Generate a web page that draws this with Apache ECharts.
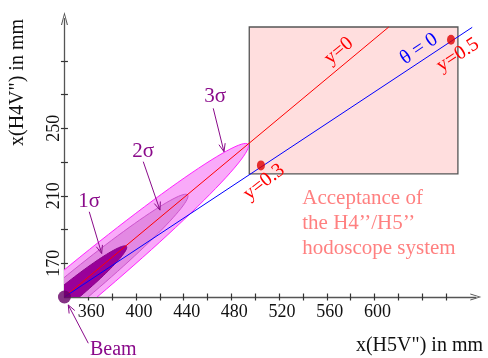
<!DOCTYPE html>
<html><head><meta charset="utf-8">
<script src="https://cdn.jsdelivr.net/npm/echarts@6/dist/echarts.min.js"></script>
<style>html,body{margin:0;padding:0;background:#fff}#c{width:488px;height:358px}</style>
</head><body><div id="c"></div>
<script>
// ---- data ----
const xMin = 340, xMax = 685;
const yMin = 150, yMax = 315;
const xTickValues = [360,380,400,420,440,460,480,500,520,540,560,580,600,620,640,660];
const xLabelValues = [360,400,440,480,520,560,600];
const yTickValues = [170,190,210,230,250,270,290];
const yLabelValues = [170,210,250];

const beam = [340, 150];
// sigma ellipses: far tip of each ellipse (data units) and minor/major ratio
const ellipseNames = ['3σ','2σ','1σ'];
const ellipseTipX = [494, 443.3, 392];
const ellipseTipY = [240.5, 210.5, 180];
const ellipseRatio = [0.088, 0.095, 0.12];

// acceptance rectangle
const accX = [495, 670];
const accY = [223, 310];

// lines
const lineY0 = [[340,150],[612,310]];
const lineTheta0 = [[340,150],[682,309.8]];
// marked points on theta=0 line
const markPoints = [[504.8,228],[664.2,302.4]];

// rotated line labels
const lineLabelText = ['y=0','θ = 0','y=0.5','y=0.3'];
const lineLabelX = [570.2, 637.3, 670, 507.4];
const lineLabelY = [295.8, 297, 293.4, 218.1];
const lineLabelAngle = [40, 34, 33, 38];

// annotation labels with arrows
const annoText = ['3σ','2σ','1σ','Beam'];
const annoX = [466.3, 406.1, 360.8, 381];
const annoY = [268.7, 236.1, 206.5, 118.6];
const arrowFromX = [464.8, 406.1, 360.8, 360];
const arrowFromY = [261.8, 230.2, 200.5, 122.6];
const arrowToX = [473.8, 420.1, 371.2, 343.2];
const arrowToY = [236.1, 201.5, 175.8, 145.3];

const accText = ['Acceptance of','the H4\u2019\u2019/H5\u2019\u2019','hodoscope system'];

// ---- styles ----
const FONT = 'Liberation Serif, Times New Roman, serif';
const ellipseFill = ['#f9aaf9','#e389e3','#990099'];
const ellipseStroke = ['#ff22ff','#cc55cc','#880088'];
const lineLabelColor = ['#ff0000','#0000ff','#ff0000','#ff0000'];
const PURPLE = '#8a0a8a';

const chart = echarts.init(document.getElementById('c'), null, {renderer:'canvas'});

const gridLeft = 64.45, gridBottom = 61;
const kx = 1.1923, ky = 1.6875;
const gridW = (xMax - xMin) * kx, gridH = (yMax - yMin) * ky;

const arrowPathUp = 'path://M0,11 L3.5,0 L7,11 L5.9,11 L3.5,2.6 L1.1,11 Z';

const option = {
  animation: false,
  backgroundColor: '#fff',
  grid: {left: gridLeft, bottom: gridBottom, width: gridW, height: gridH, containLabel: false, outerBoundsMode: 'none'},
  xAxis: [{
    type: 'value', min: xMin, max: xMax, interval: 20, position: 'bottom',
    axisLine: {show: true, onZero: false, lineStyle: {color: '#555', width: 1.3}, symbol: ['none', arrowPathUp], symbolSize: [7, 11]},
    axisTick: {show: true, inside: false, length: 3.5, customValues: xTickValues, lineStyle: {color: '#333', width: 1.2}},
    axisLabel: {show: true, customValues: xLabelValues, margin: 6, fontFamily: FONT, fontSize: 18, color: '#111', padding: [0,0,0,6]},
    splitLine: {show: false}
  },{
    type: 'value', min: xMin, max: xMax, interval: 20, position: 'bottom',
    axisLine: {show: false, onZero: false},
    axisTick: {show: true, inside: true, length: 3.5, customValues: xTickValues, lineStyle: {color: '#333', width: 1.2}},
    axisLabel: {show: false}, splitLine: {show: false}
  }],
  yAxis: [{
    type: 'value', min: yMin, max: yMax, interval: 20, position: 'left',
    axisLine: {show: true, onZero: false, lineStyle: {color: '#555', width: 1.3}, symbol: ['none', 'path://M0,13 L3.5,0 L7,13 L5.9,13 L3.5,3 L1.1,13 Z'], symbolSize: [7, 13]},
    axisTick: {show: true, inside: false, length: 3.5, customValues: yTickValues, lineStyle: {color: '#333', width: 1.2}},
    axisLabel: {show: true, customValues: yLabelValues, rotate: 90, margin: 1, fontFamily: FONT, fontSize: 18, color: '#111'},
    splitLine: {show: false}
  },{
    type: 'value', min: yMin, max: yMax, interval: 20, position: 'left',
    axisLine: {show: false, onZero: false},
    axisTick: {show: true, inside: true, length: 3.5, customValues: yTickValues, lineStyle: {color: '#333', width: 1.2}},
    axisLabel: {show: false}, splitLine: {show: false}
  }],
  graphic: [
    {type: 'text', right: 5, top: 336, style: {text: 'x(H5V") in mm', font: '20px ' + FONT, fill: '#111'}},
    {type: 'text', x: 18, y: 82.5, rotation: Math.PI/2, style: {text: 'x(H4V") in mm', font: '20px ' + FONT, fill: '#111', align: 'center', verticalAlign: 'middle'}}
  ],
  series: [
    {
      type: 'custom', z: 1, clip: false,
      data: [[accX[0], accY[0], accX[1], accY[1]]],
      renderItem: function(params, api){
        const p0 = api.coord([api.value(0), api.value(1)]);
        const p1 = api.coord([api.value(2), api.value(3)]);
        return {type: 'rect', shape: {x: p0[0], y: p1[1], width: p1[0]-p0[0], height: p0[1]-p1[1]},
          style: {fill: '#ffdede', stroke: '#555', lineWidth: 1.3}};
      }
    },
    {
      type: 'custom', z: 3, clip: false,
      data: [[accX[0], accY[0], 0]],
      renderItem: function(params, api){
        const p = api.coord([api.value(0), api.value(1)]);
        const kids = accText.map(function(t, i){
          return {type: 'text', x: p[0] + 53, y: p[1] + 25 + i*24.8,
            style: {text: t, font: '21px ' + FONT, fill: '#ff8080', align: 'left', verticalAlign: 'middle'}};
        });
        return {type: 'group', children: kids};
      }
    },
    {
      type: 'custom', z: 2, clip: true,
      data: ellipseNames.map(function(n, i){ return [ellipseTipX[i], ellipseTipY[i], ellipseRatio[i], i]; }),
      renderItem: function(params, api){
        const c = api.coord(beam);
        const t = api.coord([api.value(0), api.value(1)]);
        const ratio = api.value(2), idx = api.value(3);
        const mx = t[0]-c[0], my = t[1]-c[1];
        const a = Math.hypot(mx, my);
        const nx = -my/a, ny = mx/a, b = ratio*a;
        const pts = [];
        for (let k = 0; k < 120; k++) {
          const th = 2*Math.PI*k/120;
          pts.push([c[0] + Math.cos(th)*mx + Math.sin(th)*b*nx, c[1] + Math.cos(th)*my + Math.sin(th)*b*ny]);
        }
        return {type: 'polygon', shape: {points: pts}, style: {fill: ellipseFill[idx], stroke: ellipseStroke[idx], lineWidth: 1}};
      }
    },
    {type: 'line', z: 4, data: lineY0, symbol: 'none', clip: false, lineStyle: {color: '#ff0000', width: 1}},
    {type: 'line', z: 4, data: lineTheta0, symbol: 'none', clip: false, lineStyle: {color: '#0000ff', width: 1}},
    {type: 'scatter', z: 5, data: markPoints, symbol: 'circle', symbolSize: [8, 10], clip: false, itemStyle: {color: '#e00000'}},
    {type: 'scatter', z: 6, data: [beam], symbol: 'circle', symbolSize: 13, clip: false, itemStyle: {color: '#660066'}},
    {
      type: 'custom', z: 7, clip: false,
      data: lineLabelText.map(function(t, i){ return [lineLabelX[i], lineLabelY[i], i]; }),
      renderItem: function(params, api){
        const p = api.coord([api.value(0), api.value(1)]);
        const i = api.value(2);
        return {type: 'text', x: p[0], y: p[1], rotation: lineLabelAngle[i]*Math.PI/180,
          style: {text: lineLabelText[i], font: '20px ' + FONT, fill: lineLabelColor[i], align: 'center', verticalAlign: 'middle'}};
      }
    },
    {
      type: 'custom', z: 7, clip: false,
      data: annoText.map(function(t, i){ return [annoX[i], annoY[i], i]; }),
      renderItem: function(params, api){
        const i = api.value(2);
        const p = api.coord([api.value(0), api.value(1)]);
        const a0 = api.coord([arrowFromX[i], arrowFromY[i]]);
        const a1 = api.coord([arrowToX[i], arrowToY[i]]);
        const dx = a1[0]-a0[0], dy = a1[1]-a0[1], L = Math.hypot(dx, dy);
        const ux = dx/L, uy = dy/L, hl = 8, hw = 3.2;
        const head = [
          [a1[0] - ux*hl - uy*hw, a1[1] - uy*hl + ux*hw],
          [a1[0], a1[1]],
          [a1[0] - ux*hl + uy*hw, a1[1] - uy*hl - ux*hw]
        ];
        return {type: 'group', children: [
          {type: 'text', x: p[0], y: p[1], style: {text: annoText[i], font: (i === 3 ? '20px ' : '21px ') + FONT, fill: PURPLE, align: 'center', verticalAlign: 'middle'}},
          {type: 'line', shape: {x1: a0[0], y1: a0[1], x2: a1[0], y2: a1[1]}, style: {stroke: PURPLE, lineWidth: 1}},
          {type: 'polyline', shape: {points: head}, style: {stroke: PURPLE, lineWidth: 1, fill: null}}
        ]};
      }
    }
  ]
};
chart.setOption(option);
</script></body></html>
